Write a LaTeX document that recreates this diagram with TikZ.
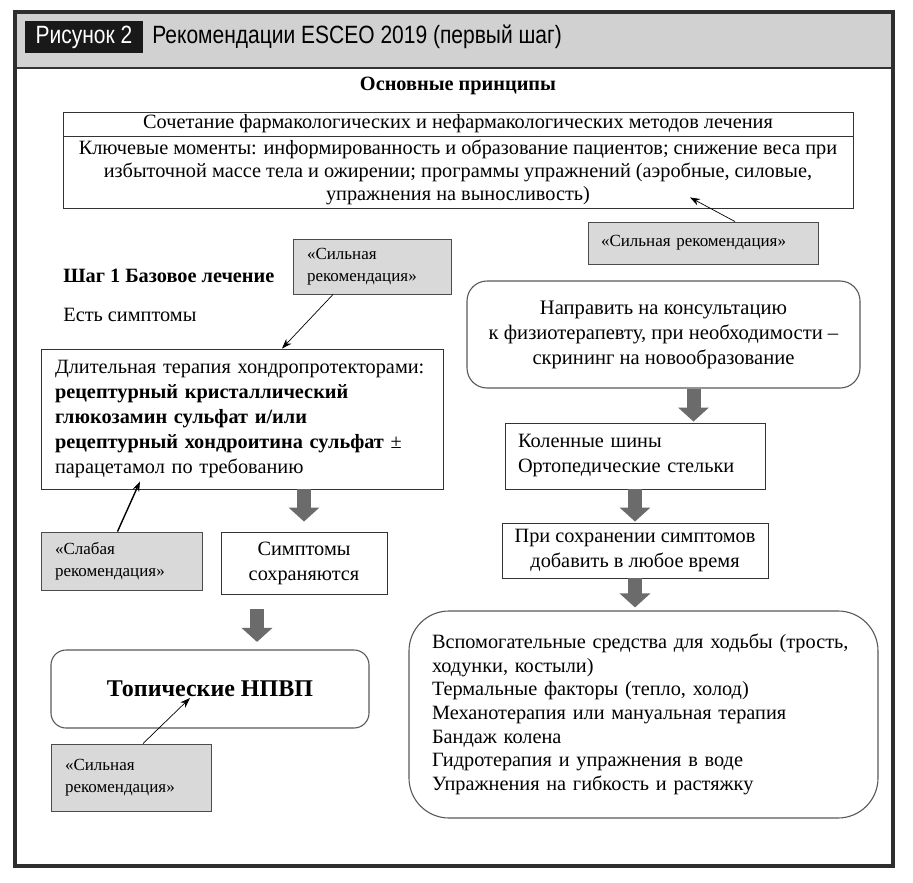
\documentclass[tikz,border=0pt]{standalone}
\usepackage{fontspec}
\setmainfont{Liberation Serif}
\newfontfamily\headfont[FakeStretch=0.84]{Liberation Sans}
\usetikzlibrary{calc}
\usetikzlibrary{arrows.meta}

\begin{document}
\begin{tikzpicture}[x=1pt,y=-1pt,>={Stealth[length=10pt,width=7pt]},
                    line width=0.7pt]
  \tikzstyle{box}=[draw=black!80,line width=0.9pt,fill=white,inner sep=0pt,
                   font=\fontsize{20.3}{25}\selectfont]
  \tikzstyle{rec}=[draw=black!70,line width=0.9pt,fill=black!15,inner sep=0pt,
                   align=left,font=\fontsize{17}{22}\selectfont]
  \tikzstyle{rbox}=[box,draw=black!65,line width=1.1pt,rounded corners=18pt]
  \tikzstyle{fat}=[draw=black!58,line width=14pt,-{Triangle[width=30pt,length=14pt]}]

  \useasboundingbox (0,0) rectangle (913,883);
  % frame and header
  \fill[black!18] (15,12) rectangle (893,68);
  \draw[line width=2.5pt,black!80] (15,68) -- (893,68);
  \draw[line width=3.5pt,black!82] (15,12) rectangle (893,866);

  \node[fill=black!90,text=white,minimum width=118,minimum height=32,inner sep=0pt,
        font=\headfont\fontsize{25}{25}\selectfont]       (A) at (84,37)      {Рисунок 2};
  \node[anchor=west,inner sep=0pt,
        font=\headfont\fontsize{25}{25}\selectfont]       (B) at (152,37)     {Рекомендации ESCEO 2019 (первый шаг)};
  \node[font=\bfseries\fontsize{20.3}{24}\selectfont]    (C) at (458,86)     {Основные принципы};

  % basic principles
  \node[box,minimum width=790,minimum height=24]         (D) at (458,124)    {Сочетание фармакологических и нефармакологических методов лечения};
  \node[box,minimum width=790,minimum height=72,align=center,
        font=\fontsize{20.3}{23}\selectfont]             (E) at (458,172)    {Ключевые моменты: информированность и образование пациентов; снижение веса при\\
                                                                               избыточной массе тела и ожирении; программы упражнений (аэробные, силовые,\\
                                                                               упражнения на выносливость)};
  \node[rec,minimum width=230,minimum height=42,text width=204]
                                                         (F) at (703,243)    {«Сильная рекомендация»};

  % step 1, left column
  \node[rec,minimum width=158,minimum height=55,text width=130]
                                                         (G) at (372,266.5)  {«Сильная\\рекомендация»};
  \node[anchor=west,inner sep=0pt,font=\bfseries\fontsize{20.3}{24}\selectfont]
                                                         (H) at (63,276)     {Шаг 1 Базовое лечение};
  \node[anchor=west,inner sep=0pt,font=\fontsize{20.3}{24}\selectfont]
                                                         (I) at (63,315)     {Есть симптомы};
  \node[box,minimum width=402,minimum height=140,text width=374,align=left]
                                                         (J) at (242,419)    {Длительная терапия хондропротекторами:\\
                                                                               \textbf{рецептурный кристаллический}\\
                                                                               \textbf{глюкозамин сульфат и/или}\\
                                                                               \textbf{рецептурный хондроитина сульфат} ±\\
                                                                               парацетамол по требованию};
  \node[rec,minimum width=161,minimum height=58,text width=133]
                                                         (K) at (121.5,561)  {«Слабая\\рекомендация»};
  \node[box,minimum width=166,minimum height=62,align=center]
                                                         (L) at (304,563)    {Симптомы\\сохраняются};
  \node[rbox,rounded corners=15pt,minimum width=318,minimum height=78,
        font=\bfseries\fontsize{24}{28}\selectfont]      (M) at (210,689)    {Топические НПВП};
  \node[rec,minimum width=160,minimum height=67,text width=132]
                                                         (N) at (131,777.5)  {«Сильная\\рекомендация»};

  % right column
  \node[rbox,rounded corners=20pt,minimum width=393,minimum height=107,align=center,
        font=\fontsize{20.6}{25}\selectfont]             (O) at (663.5,334.5){Направить на консультацию\\
                                                                               к физиотерапевту, при необходимости –\\
                                                                               скрининг на новообразование};
  \node[box,minimum width=260,minimum height=66,text width=234,align=left]
                                                         (P) at (635,456)    {Коленные шины\\Ортопедические стельки};
  \node[box,minimum width=266,minimum height=55,align=center]
                                                         (Q) at (635,550.5)  {При сохранении симптомов\\добавить в любое время};
  \node[rbox,rounded corners=40pt,minimum width=469,minimum height=207,text width=423,
        align=left,font=\fontsize{20.3}{23.7}\selectfont](R) at (643.5,714.5){Вспомогательные средства для ходьбы (трость,\\
                                                                               ходунки, костыли)\\
                                                                               Термальные факторы (тепло, холод)\\
                                                                               Механотерапия или мануальная терапия\\
                                                                               Бандаж колена\\
                                                                               Гидротерапия и упражнения в воде\\
                                                                               Упражнения на гибкость и растяжку};

  % recommendation pointers
  \coordinate (e1) at ($(E.south)+(232,-11)$);
  \coordinate (j1) at ($(J.south)+(-102,-8)$);
  \coordinate (m1) at ($(M.center)+(-20,9)$);
  \draw[->] ($(F.north)+(32,0)$) -- (e1);
  \draw[->] ($(G.south)+(-39,0)$) -- ($(J.north)+(40,0)$);
  \draw[->,line width=1.4pt] ($(K.north)+(-4,0)$) -- (j1);
  \draw[->] ($(N.north)+(12,0)$) -- (m1);

  % block arrows
  \coordinate (lm) at ($(L.south)!0.5!(M.north)$);
  \draw[fat] (J.south -| L.north) -- ($(L.north)+(0,-10)$);
  \draw[fat] ($(lm)+(0,-13)$) -- ($(lm)+(0,20)$);
  \draw[fat] ($(O.south)+(30,0)$) -- ($(O.south)+(30,33)$);
  \draw[fat] (P.south) -- ($(Q.north)+(0,-1)$);
  \draw[fat] (Q.south) -- ($(Q.south |- R.north)+(0,-3)$);
\end{tikzpicture}
\end{document}
